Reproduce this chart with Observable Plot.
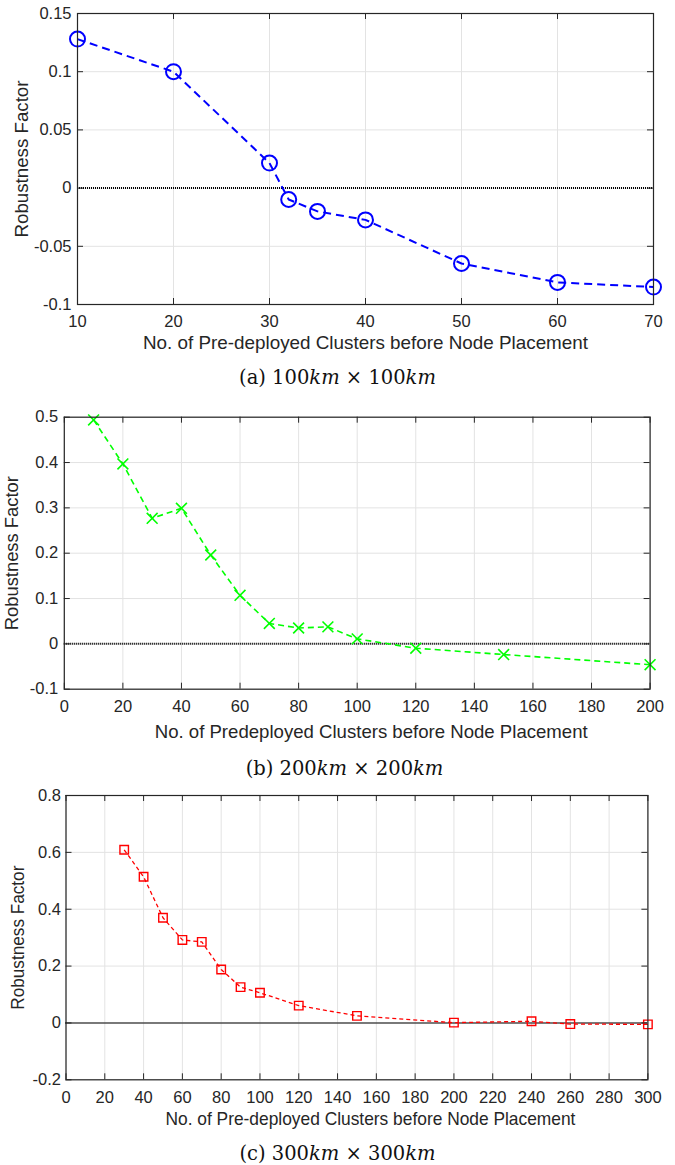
<!DOCTYPE html>
<html>
<head>
<meta charset="utf-8">
<script src="https://cdn.jsdelivr.net/npm/d3@7"></script>
<script src="https://cdn.jsdelivr.net/npm/@observablehq/plot@0.6"></script>
<style>
  body { margin: 0; background: white; width: 675px; }
  .cap { width: 675px; height: 32px; line-height: 32px; text-align: center;
         font-family: "DejaVu Serif", "Liberation Serif", serif; font-size: 19.5px; color: #111; white-space: nowrap; }
  .cap i { font-style: italic; }
  svg { display: block; }
</style>
</head>
<body>
<div id="a"></div>
<div class="cap">(a) 100<i>km</i> × 100<i>km</i></div>
<div id="b"></div>
<div class="cap" style="padding-left:14px;width:661px">(b) 200<i>km</i> × 200<i>km</i></div>
<div id="c"></div>
<div class="cap">(c) 300<i>km</i> × 300<i>km</i></div>
<script>
// ---------- data ----------
const clustersA = [10, 20, 30, 32, 35, 40, 50, 60, 70];
const robustA   = [0.128, 0.100, 0.0215, -0.0098, -0.020, -0.0273, -0.0648, -0.081, -0.085];

const clustersB = [10, 20, 30, 40, 50, 60, 70, 80, 90, 100, 120, 150, 200];
const robustB   = [0.494, 0.397, 0.277, 0.299, 0.196, 0.107, 0.045, 0.035, 0.0375, 0.011, -0.0096, -0.0235, -0.046];

const clustersC = [30, 40, 50, 60, 70, 80, 90, 100, 120, 150, 200, 240, 260, 300];
const robustC   = [0.609, 0.514, 0.370, 0.292, 0.285, 0.188, 0.126, 0.106, 0.061, 0.025, 0.001, 0.006, -0.004, -0.005];

const xTicksA = [10, 20, 30, 40, 50, 60, 70];
const yTicksA = [-0.1, -0.05, 0, 0.05, 0.1, 0.15];
const xTicksB = [0, 20, 40, 60, 80, 100, 120, 140, 160, 180, 200];
const yTicksB = [-0.1, 0, 0.1, 0.2, 0.3, 0.4, 0.5];
const xTicksC = [0, 20, 40, 60, 80, 100, 120, 140, 160, 180, 200, 220, 240, 260, 280, 300];
const yTicksC = [-0.2, 0, 0.2, 0.4, 0.6, 0.8];

const yLabel = "Robustness Factor";
const xLabelA = "No. of Pre-deployed Clusters before Node Placement";
const xLabelB = "No. of Predeployed Clusters before Node Placement";
const xLabelC = "No. of Pre-deployed Clusters before Node Placement";

const INK = "#262626";
const GRID = "#e3e3e3";

function panel(cfg) {
  const data = cfg.xs.map((x, i) => ({x, y: cfg.ys[i]}));
  const innerH = cfg.height - cfg.mt - cfg.mb;
  const innerW = 675 - cfg.ml - cfg.mr;
  const svg = Plot.plot({
    width: 675,
    height: cfg.height,
    marginTop: cfg.mt, marginBottom: cfg.mb, marginLeft: cfg.ml, marginRight: cfg.mr,
    style: {fontFamily: "'Liberation Sans', Arial, sans-serif", fontSize: "16.5px", color: INK, background: "white", overflow: "visible"},
    x: {domain: cfg.xDomain},
    y: {domain: cfg.yDomain},
    marks: [
      Plot.gridX(cfg.xTicks, {stroke: GRID, strokeOpacity: 1, strokeWidth: 1}),
      Plot.gridY(cfg.yTicks, {stroke: GRID, strokeOpacity: 1, strokeWidth: 1}),
      Plot.ruleY([0], {stroke: "#000", strokeWidth: 2, strokeDasharray: "1,1"}),
      Plot.line(data, {x: "x", y: "y", stroke: cfg.color, strokeWidth: cfg.lw, strokeDasharray: cfg.dash, strokeLinecap: "butt"}),
      Plot.dot(data, {x: "x", y: "y", symbol: cfg.symbol, r: cfg.r, stroke: cfg.color, strokeWidth: cfg.mw, fill: "none"}),
      // inward tick marks on all four sides
      Plot.ruleX(cfg.xTicks, {stroke: INK, insetTop: innerH - 6}),
      Plot.ruleX(cfg.xTicks, {stroke: INK, insetBottom: innerH - 6}),
      Plot.ruleY(cfg.yTicks, {stroke: INK, insetRight: innerW - 6}),
      Plot.ruleY(cfg.yTicks, {stroke: INK, insetLeft: innerW - 6}),
      Plot.frame({stroke: INK, strokeWidth: 1.2}),
      Plot.axisX(cfg.xTicks, {tickSize: 0, tickPadding: 11, tickFormat: d => String(d), label: null, fontSize: 16.5}),
      Plot.axisY(cfg.yTicks, {tickSize: 0, tickPadding: cfg.yPad, tickFormat: d => String(d), label: null, fontSize: 16.5}),
      Plot.text([cfg.xLabel], {frameAnchor: "bottom", dx: cfg.xTitleDx, dy: cfg.xTitleDy, lineAnchor: "middle", textAnchor: "middle", fontSize: 18.5, fill: INK}),
      Plot.text([yLabel], {frameAnchor: "left", dx: cfg.yTitleDx, rotate: -90, lineAnchor: "middle", textAnchor: "middle", fontSize: 18.5, fill: INK})
    ]
  });
  document.getElementById(cfg.id).appendChild(svg);
  const texts = svg.querySelectorAll('g[aria-label="text"] text');
  if (texts[0]) { texts[0].setAttribute("textLength", cfg.xTitleLen); texts[0].setAttribute("lengthAdjust", "spacingAndGlyphs"); }
  if (texts[1]) { texts[1].setAttribute("textLength", cfg.yTitleLen); texts[1].setAttribute("lengthAdjust", "spacingAndGlyphs"); }
}

panel({id: "a", xs: clustersA, ys: robustA, xTicks: xTicksA, yTicks: yTicksA,
  xDomain: [10, 70], yDomain: [-0.1, 0.15], height: 362, mt: 13, mb: 58, ml: 77, mr: 22,
  color: "#0000ff", lw: 2, dash: "8,5", symbol: "circle", r: 7.5, mw: 2,
  xLabel: xLabelA, xTitleDx: 0, xTitleDy: 39, yTitleDx: -55.5, yPad: 6, xTitleLen: 445, yTitleLen: 157});

panel({id: "b", xs: clustersB, ys: robustB, xTicks: xTicksB, yTicks: yTicksB,
  xDomain: [0, 200], yDomain: [-0.1, 0.5], height: 359, mt: 22.7, mb: 64.3, ml: 63.8, mr: 25.4,
  color: "#00ff00", lw: 1.6, dash: "6,4", symbol: "times", r: 5, mw: 1.6,
  xLabel: xLabelB, xTitleDx: 14, xTitleDy: 43.3, yTitleDx: -52.2, yPad: 6, xTitleLen: 433, yTitleLen: 154});

panel({id: "c", xs: clustersC, ys: robustC, xTicks: xTicksC, yTicks: yTicksC,
  xDomain: [0, 300], yDomain: [-0.2, 0.8], height: 353, mt: 10, mb: 58.7, ml: 65.5, mr: 27.6,
  color: "#ff0000", lw: 1.3, dash: "4,3", symbol: "square", r: 4.8, mw: 1.4,
  xLabel: xLabelC, xTitleDx: 13.5, xTitleDy: 39.7, yTitleDx: -47.5, yPad: 5, xTitleLen: 410, yTitleLen: 144});
</script>
</body>
</html>
